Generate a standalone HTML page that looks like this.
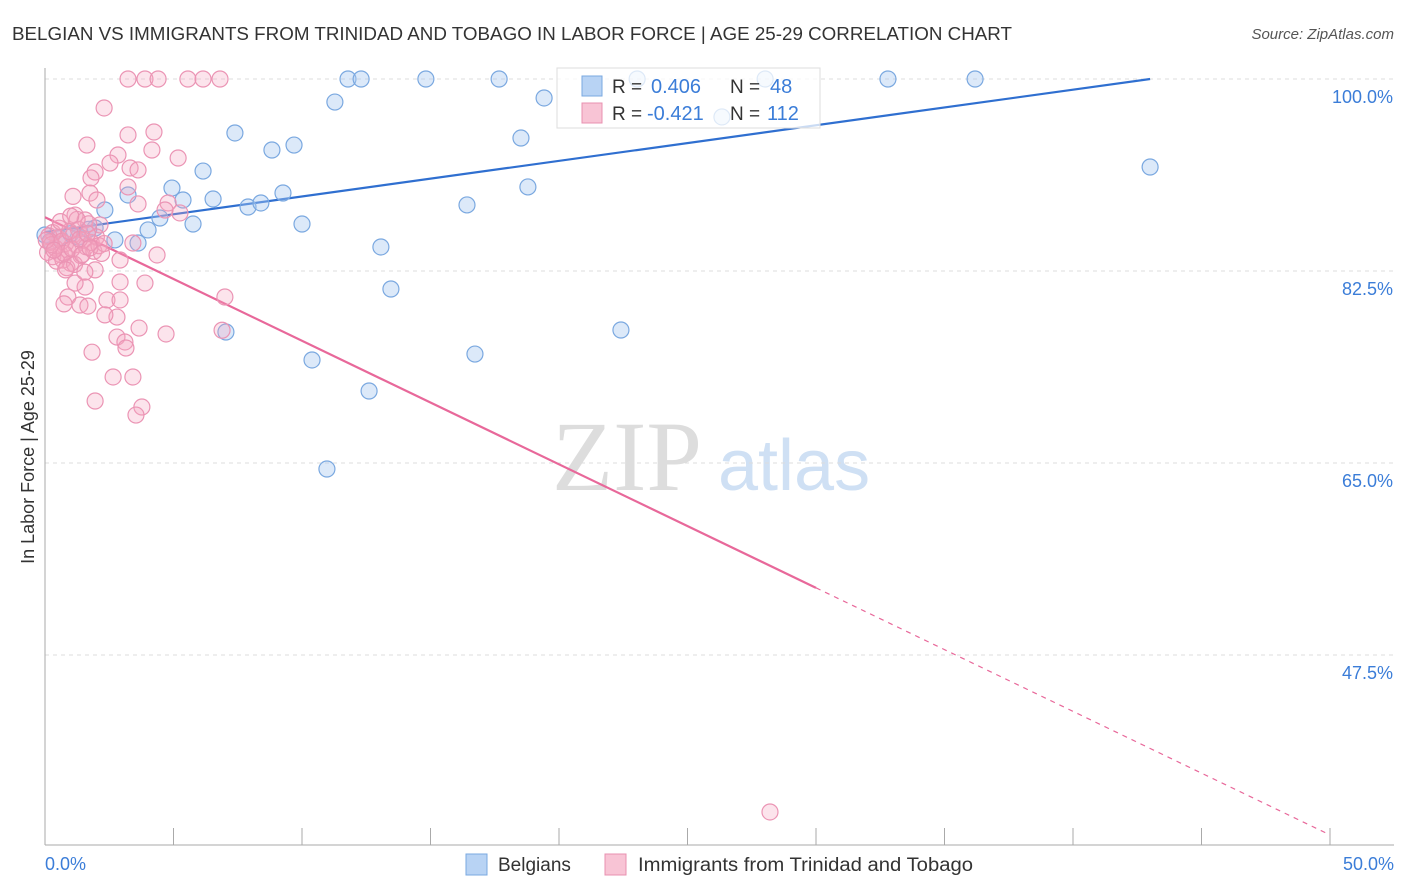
<!DOCTYPE html>
<html><head><meta charset="utf-8"><style>
body{margin:0;background:#fff;font-family:"Liberation Sans",sans-serif;}
svg{display:block}
</style></head><body>
<svg id="chart" width="1406" height="892" xmlns="http://www.w3.org/2000/svg">
<text x="12" y="40" font-size="18" fill="#333" textLength="1000" lengthAdjust="spacingAndGlyphs">BELGIAN VS IMMIGRANTS FROM TRINIDAD AND TOBAGO IN LABOR FORCE | AGE 25-29 CORRELATION CHART</text>
<text x="1394" y="39" font-size="15" fill="#555" text-anchor="end" font-style="italic">Source: ZipAtlas.com</text>
<g>
<text x="552" y="490" font-size="100" fill="#ddd" font-family="Liberation Serif,serif">ZIP</text>
<text x="718" y="490" font-size="72" fill="#cfe0f4">atlas</text>
</g>
<g id="grid"></g><g id="axes"></g><g id="lines"></g><g id="pts"></g>
<g>
<rect x="557" y="68" width="263" height="60" fill="#fff" fill-opacity="0.75" stroke="#ddd"/>
<rect x="582" y="76" width="20" height="20" fill="#b8d3f4" stroke="#7aa8e0"/>
<rect x="582" y="103" width="20" height="20" fill="#f8c4d5" stroke="#e890b0"/>
<text x="612" y="93" font-size="19" fill="#333">R =</text>
<text x="651" y="93" font-size="20" fill="#3b7dd8">0.406</text>
<text x="730" y="93" font-size="19" fill="#333">N =</text>
<text x="770" y="93" font-size="20" fill="#3b7dd8">48</text>
<text x="612" y="120" font-size="19" fill="#333">R =</text>
<text x="647" y="120" font-size="20" fill="#3b7dd8">-0.421</text>
<text x="730" y="120" font-size="19" fill="#333">N =</text>
<text x="767" y="120" font-size="20" fill="#3b7dd8">112</text>
</g>
<g>
<rect x="466" y="854" width="21" height="21" fill="#b8d3f4" stroke="#7aa8e0"/>
<text x="498" y="871" font-size="19" fill="#333">Belgians</text>
<rect x="605" y="854" width="21" height="21" fill="#f8c4d5" stroke="#e890b0"/>
<text x="638" y="871" font-size="19" fill="#333" textLength="335" lengthAdjust="spacingAndGlyphs">Immigrants from Trinidad and Tobago</text>
</g>
<text transform="translate(34,457) rotate(-90)" font-size="18" fill="#333" text-anchor="middle">In Labor Force | Age 25-29</text>
</svg>
<script>
const yTicks=[100,82.5,65,47.5];
const yTickLabels=["100.0%","82.5%","65.0%","47.5%"];
const xTickLabels=["0.0%","50.0%"];
const blueX=[0,0.58,1.95,2.33,2.72,3.23,3.62,4.01,4.47,4.94,5.37,5.76,6.15,6.54,7.04,7.39,7.90,8.40,8.83,9.26,9.69,10.0,10.39,10.97,11.28,11.79,12.30,12.61,13.07,13.46,14.82,16.42,16.73,17.67,18.52,18.79,19.42,22.41,23.04,26.34,28.02,32.80,36.19,43.0,0.2,1.3,1.7,1.0];
const blueY=[85.78,85.51,86.42,88.06,85.33,89.43,85.05,86.24,87.33,90.06,88.97,86.78,91.61,89.06,76.94,95.08,88.33,88.70,93.53,89.61,93.98,86.78,74.39,64.45,97.90,100,100,71.56,84.69,80.86,100,88.52,74.93,100,94.62,90.16,98.27,77.12,100,96.54,100,100,100,91.98,85.2,85.6,86.3,85.9];
const pinkX=[3.23,3.89,4.40,5.56,6.15,6.81,2.30,1.63,3.23,4.24,4.16,2.84,2.53,1.95,3.31,3.62,5.18,1.79,3.23,1.75,1.09,2.02,3.62,4.79,5.25,4.67,1.17,1.56,2.14,3.42,4.36,2.92,1.95,3.89,2.92,1.56,1.17,0.89,7.00,2.41,2.92,0.74,1.36,1.67,2.80,2.33,3.66,6.89,4.71,2.80,3.11,3.15,1.83,2.65,3.42,1.95,3.77,3.54,28.21,
0.1,0.2,0.3,0.4,0.5,0.3,0.6,0.7,0.8,0.9,1.0,1.1,1.2,1.3,1.4,1.5,1.6,1.7,1.8,1.9,2.0,2.1,2.3,0.15,0.25,0.45,0.55,0.65,0.75,0.85,0.95,1.05,1.15,1.25,1.35,1.45,1.55,1.65,1.75,0.05,0.35,0.6,1.0,0.8,2.2];
const pinkY=[100,100,100,100,100,100,97.36,93.98,94.9,95.17,93.53,93.07,92.34,91.52,91.89,91.71,92.8,90.98,90.16,89.6,89.3,88.97,88.61,88.70,87.79,88.06,87.6,87.15,86.7,85.05,83.96,83.5,82.6,81.4,81.5,81.04,81.4,80.13,80.13,79.86,79.86,79.5,79.4,79.3,78.3,78.5,77.3,77.1,76.76,76.48,76.03,75.48,75.1,72.84,72.84,70.65,70.1,69.37,33.19,
84.2,85.1,83.8,84.6,85.5,86.0,84.0,83.5,85.0,84.4,83.2,85.8,84.9,86.3,83.9,85.3,84.7,86.8,85.1,84.3,85.6,84.8,85.0,85.7,84.9,83.4,86.4,85.2,84.1,82.8,86.1,84.5,83.1,87.2,85.4,84.0,82.4,85.9,84.6,85.3,84.4,87.0,87.5,82.6,84.1];
const blueTrend=[86.05,100];const blueTrendX=[0,43];
const pinkTrend=[87.4,31.1];const pinkTrendX=[0,50];
const sx=v=>45+v*25.7, sy=v=>79+(100-v)*10.971;
const NS="http://www.w3.org/2000/svg";
function mk(p,t,a){const e=document.createElementNS(NS,t);for(const k in a)e.setAttribute(k,a[k]);document.getElementById(p).appendChild(e);return e;}
yTicks.forEach((v,i)=>{
 const g=mk('grid','line',{x1:45,x2:1394,y1:sy(v),y2:sy(v),stroke:'#ddd','stroke-dasharray':'4,4'});
 
 
 const t=mk('grid','text',{x:1393,y:sy(v)+24,'font-size':18,fill:'#3b7dd8','text-anchor':'end'});
 t.textContent=yTickLabels[i];
 
 
});
const ax=mk('axes','line',{x1:45,x2:45,y1:68,y2:845,stroke:'#aaa'});


const bx=mk('axes','line',{x1:45,x2:1394,y1:845,y2:845,stroke:'#aaa'});


for(let i=1;i<=10;i++){const tk=mk('axes','line',{x1:sx(i*5),x2:sx(i*5),y1:828,y2:845,stroke:'#aaa'});
 
 }
[[0,45,'start'],[1,1394,'end']].forEach(([i,x,a])=>{const t=mk('axes','text',{x:x,y:870,'font-size':18,fill:'#3b7dd8','text-anchor':a});t.textContent=xTickLabels[i];
 
 });
blueX.forEach((v,i)=>{const c=mk('pts','circle',{cx:sx(v),cy:sy(blueY[i]),r:8,fill:'rgba(168,200,240,0.4)',stroke:'#7aa8e0','stroke-width':1.2});
 
 });
pinkX.forEach((v,i)=>{const c=mk('pts','circle',{cx:sx(v),cy:sy(pinkY[i]),r:8,fill:'rgba(244,166,192,0.3)',stroke:'#eb94b4','stroke-width':1.2});
 
 });
const bl=mk('lines','line',{x1:sx(blueTrendX[0]),y1:sy(blueTrend[0]),x2:sx(blueTrendX[1]),y2:sy(blueTrend[1]),stroke:'#2f6fd0','stroke-width':2.2});


const cut=30, pv=pinkTrend[0]+(pinkTrend[1]-pinkTrend[0])*cut/50;
const pl=mk('lines','line',{x1:sx(0),y1:sy(pinkTrend[0]),x2:sx(cut),y2:sy(pv),stroke:'#e8689a','stroke-width':2.2});


const pd=mk('lines','line',{x1:sx(cut),y1:sy(pv),x2:sx(50),y2:sy(pinkTrend[1]),stroke:'#e8689a','stroke-width':1.2,'stroke-dasharray':'5,5'});


</script>
</body></html>
